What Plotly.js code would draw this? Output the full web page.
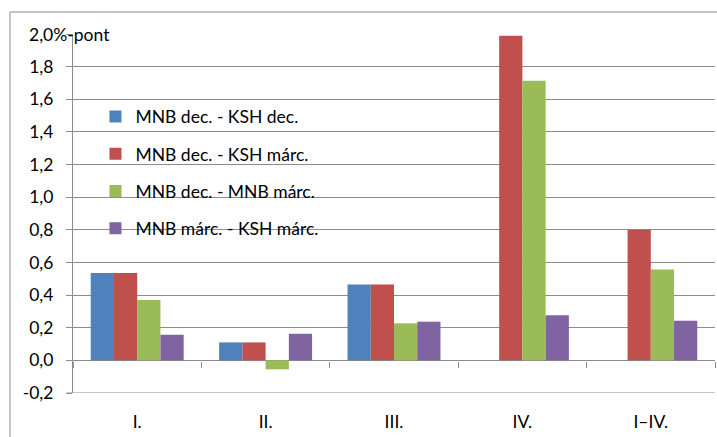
<!DOCTYPE html>
<html>
<head>
<meta charset="utf-8">
<script src="https://cdn.plot.ly/plotly-3.0.1.min.js"></script>
<style>html,body{margin:0;padding:0;background:#fff;}#chart{width:717px;height:437px;}</style>
</head>
<body>
<div id="chart"></div>
<script>
var categories = ["I.", "II.", "III.", "IV.", "I–IV."];
var seriesNames = ["MNB dec. - KSH dec.", "MNB dec. - KSH márc.", "MNB dec. - MNB márc.", "MNB márc. - KSH márc."];
var mnbDecKshDec = [0.535, 0.11, 0.465, null, null];
var mnbDecKshMarc = [0.535, 0.11, 0.465, 1.99, 0.80];
var mnbDecMnbMarc = [0.37, -0.055, 0.227, 1.713, 0.557];
var mnbMarcKshMarc = [0.157, 0.163, 0.237, 0.276, 0.243];
var colors = ["#4F81BD", "#C0504D", "#9BBB59", "#8064A2"];
var yTickVals = [-0.2, 0, 0.2, 0.4, 0.6, 0.8, 1.0, 1.2, 1.4, 1.6, 1.8, 2.0];
var yTickText = ["-0,2", "0,0", "0,2", "0,4", "0,6", "0,8", "1,0", "1,2", "1,4", "1,6", "1,8", ""];
var yUnitLabel = "2,0%-pont";

var allSeries = [mnbDecKshDec, mnbDecKshMarc, mnbDecMnbMarc, mnbMarcKshMarc];
var FONT = "Lato, 'Liberation Sans', sans-serif";
var FS = 17.5;
var traces = allSeries.map(function (vals, i) {
  return {
    type: "bar",
    x: categories,
    y: vals,
    name: seriesNames[i],
    legendgroup: "g" + i,
    marker: {color: colors[i], line: {width: 0}},
    hoverinfo: "x+y+name"
  };
});

var layout = {
  width: 717,
  height: 437,
  margin: {l: 73, r: 2, t: 34, b: 44},
  paper_bgcolor: "#ffffff",
  plot_bgcolor: "rgba(0,0,0,0)",
  font: {family: FONT, size: FS, color: "#000000"},
  barmode: "group",
  bargap: 0.276,
  bargroupgap: 0,
  showlegend: true,
  legend: {
    x: 0.035, y: 0.82, xanchor: "left", yanchor: "top",
    bgcolor: "rgba(0,0,0,0)",
    font: {family: FONT, size: FS, color: "#000"},
    tracegroupgap: 11.5,
    itemwidth: 30
  },
  xaxis: {
    type: "category",
    categoryarray: categories,
    range: [-0.5, 4.5],
    showgrid: false,
    zeroline: false,
    showline: false,
    ticks: "",
    tickfont: {family: FONT, size: FS, color: "#000"},
    ticklabelstandoff: 16
  },
  xaxis2: {
    type: "category",
    overlaying: "x",
    matches: "x",
    anchor: "free",
    position: 32.3 / 359,
    showgrid: false,
    zeroline: false,
    showline: false,
    showticklabels: false,
    ticks: "outside",
    tickson: "boundaries",
    ticklen: 6,
    tickcolor: "#8c8c8c",
    tickwidth: 1
  },
  yaxis: {
    range: [-0.2, 2.0],
    tickvals: yTickVals,
    ticktext: yTickText,
    showgrid: true,
    gridcolor: "#8c8c8c",
    gridwidth: 1,
    zeroline: true,
    zerolinecolor: "#8c8c8c",
    zerolinewidth: 1,
    showline: true,
    linecolor: "#8c8c8c",
    linewidth: 1,
    ticks: "outside",
    ticklen: 6,
    tickcolor: "#8c8c8c",
    tickfont: {family: FONT, size: FS, color: "#000"},
    ticklabelstandoff: 9
  },
  annotations: [{
    xref: "paper", yref: "y",
    x: (27 - 73) / 642, y: 2.0,
    xanchor: "left", yanchor: "middle",
    text: yUnitLabel, showarrow: false,
    font: {family: FONT, size: FS, color: "#000"}
  }],
  shapes: [{
    type: "rect", xref: "paper", yref: "paper",
    x0: (10 - 73) / 642, x1: 1.05, y0: -0.3, y1: (393 - 12) / 359,
    line: {color: "#8c8c8c", width: 1}, fillcolor: "rgba(0,0,0,0)", layer: "below"
  }, {
    type: "line", xref: "paper", yref: "y",
    x0: -6 / 642, x1: 1, y0: -0.2, y1: -0.2,
    line: {color: "#8c8c8c", width: 1}
  }]
};

traces.push({type: "bar", x: categories, y: [null, null, null, null, null], xaxis: "x2", showlegend: false, hoverinfo: "skip"});

Plotly.newPlot("chart", traces, layout, {displayModeBar: false, staticPlot: true});
</script>
</body>
</html>
